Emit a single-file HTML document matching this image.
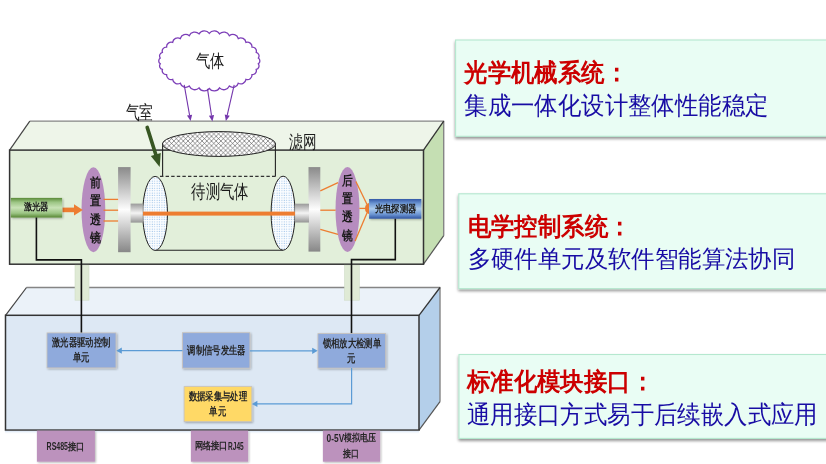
<!DOCTYPE html>
<html><head><meta charset="utf-8"><style>
html,body{margin:0;padding:0;background:#fff;width:826px;height:464px;overflow:hidden;font-family:'Liberation Sans', sans-serif;}
</style></head><body>
<svg width="826" height="464" viewBox="0 0 826 464" style="position:absolute;left:0;top:0;font-family:'Liberation Sans', sans-serif;will-change:transform">
<defs>
<pattern id="dots" width="2.4" height="2.4" patternUnits="userSpaceOnUse"><rect width="2.4" height="2.4" fill="#fbfdff"/><rect x="0.6" y="0.6" width="1" height="1" fill="#9cc2e8"/></pattern>
<pattern id="hatch" width="4.7" height="4.7" patternUnits="userSpaceOnUse"><rect width="4.7" height="4.7" fill="#ffffff"/><path d="M0,0L4.7,4.7M4.7,0L0,4.7" stroke="#3a3a3a" stroke-width="0.55"/></pattern>
<linearGradient id="gdisc" x1="0" y1="0" x2="0" y2="1"><stop offset="0" stop-color="#8a8a8a"/><stop offset="0.5" stop-color="#fdfdfd"/><stop offset="1" stop-color="#878787"/></linearGradient>
<linearGradient id="gconn" x1="0" y1="0" x2="0" y2="1"><stop offset="0" stop-color="#9a9a9a"/><stop offset="0.5" stop-color="#f4f4f4"/><stop offset="1" stop-color="#959595"/></linearGradient>
<linearGradient id="glaser" x1="0" y1="0" x2="0" y2="1"><stop offset="0" stop-color="#5a8a38"/><stop offset="0.22" stop-color="#9cc584"/><stop offset="0.5" stop-color="#c8e2b6"/><stop offset="0.78" stop-color="#9cc584"/><stop offset="1" stop-color="#578734"/></linearGradient>
<linearGradient id="gdet" x1="0" y1="0" x2="0" y2="1"><stop offset="0" stop-color="#3257a6"/><stop offset="0.22" stop-color="#6c95d2"/><stop offset="0.5" stop-color="#a9c9ec"/><stop offset="0.78" stop-color="#6c95d2"/><stop offset="1" stop-color="#3054a2"/></linearGradient>
<linearGradient id="glow" x1="0" y1="0" x2="0" y2="1"><stop offset="0" stop-color="#d6e4f5"/><stop offset="1" stop-color="#ffffff" stop-opacity="0"/></linearGradient>
<filter id="sh" x="-10%" y="-10%" width="130%" height="140%"><feGaussianBlur in="SourceAlpha" stdDeviation="1.6"/><feOffset dx="-0.3" dy="2.2" result="b"/><feComponentTransfer><feFuncA type="linear" slope="0.42"/></feComponentTransfer><feMerge><feMergeNode/><feMergeNode in="SourceGraphic"/></feMerge></filter>
<filter id="sh2" x="-10%" y="-10%" width="130%" height="140%"><feGaussianBlur in="SourceAlpha" stdDeviation="0.8"/><feOffset dx="0.5" dy="1" result="b"/><feComponentTransfer><feFuncA type="linear" slope="0.3"/></feComponentTransfer><feMerge><feMergeNode/><feMergeNode in="SourceGraphic"/></feMerge></filter>
</defs>
<rect width="826" height="464" fill="#ffffff"/>
<rect x="455.6" y="40.0" width="380.4" height="96.30000000000001" fill="#e9fdf4" stroke="#b5e8cf" stroke-width="1.1" filter="url(#sh)"/>
<rect x="458.8" y="193.8" width="377.2" height="94.80000000000001" fill="#e9fdf4" stroke="#b5e8cf" stroke-width="1.1" filter="url(#sh)"/>
<rect x="459.0" y="354.5" width="377.0" height="83.89999999999998" fill="#e9fdf4" stroke="#b5e8cf" stroke-width="1.1" filter="url(#sh)"/>
<text x="464.20" y="81.01" font-size="24.89" fill="#cc0000" font-weight="bold" textLength="163.80" lengthAdjust="spacingAndGlyphs">光学机械系统：</text>
<text x="464.20" y="113.66" font-size="25.32" fill="#180ca4" font-weight="500" textLength="304.20" lengthAdjust="spacingAndGlyphs">集成一体化设计整体性能稳定</text>
<text x="467.70" y="235.33" font-size="24.79" fill="#cc0000" font-weight="bold" textLength="163.80" lengthAdjust="spacingAndGlyphs">电学控制系统：</text>
<text x="467.70" y="267.26" font-size="24.47" fill="#180ca4" font-weight="500" textLength="327.60" lengthAdjust="spacingAndGlyphs">多硬件单元及软件智能算法协同</text>
<text x="466.80" y="389.83" font-size="24.79" fill="#cc0000" font-weight="bold" textLength="187.20" lengthAdjust="spacingAndGlyphs">标准化模块接口：</text>
<text x="466.80" y="422.53" font-size="24.79" fill="#180ca4" font-weight="500" textLength="351.00" lengthAdjust="spacingAndGlyphs">通用接口方式易于后续嵌入式应用</text>
<polygon points="5.5,315.3 26.5,287.5 440.0,287.5 419.0,315.3" fill="#ebf2f9"/>
<polygon points="419.0,315.3 440.0,287.5 440.0,401.70000000000005 419.0,430.1" fill="#b4cfea"/>
<polyline points="26.5,287.5 440.0,287.5 440.0,401.70000000000005" fill="none" stroke="#858585" stroke-width="1.4" stroke-linejoin="round"/>
<line x1="5.5" y1="315.3" x2="26.5" y2="287.5" stroke="#444" stroke-width="1.2"/>
<line x1="419.0" y1="315.3" x2="440.0" y2="287.5" stroke="#333" stroke-width="1.3"/>
<line x1="419.0" y1="430.1" x2="440.0" y2="401.70000000000005" stroke="#555" stroke-width="1.2"/>
<rect x="5.5" y="315.3" width="413.5" height="114.80000000000001" fill="#dde8f4" stroke="#333333" stroke-width="1.5"/>
<rect x="5" y="430.9" width="414" height="3.5" fill="url(#glow)"/>
<polygon points="9.6,150.1 29.799999999999997,121.1 443.7,121.1 423.5,150.1" fill="#eef5e9"/>
<polygon points="423.5,150.1 443.7,121.1 443.7,235.7 423.5,264.2" fill="#c5dfb3"/>
<polyline points="29.799999999999997,121.1 443.7,121.1 443.7,235.7" fill="none" stroke="#858585" stroke-width="1.4" stroke-linejoin="round"/>
<line x1="9.6" y1="150.1" x2="29.799999999999997" y2="121.1" stroke="#444" stroke-width="1.2"/>
<line x1="423.5" y1="150.1" x2="443.7" y2="121.1" stroke="#333" stroke-width="1.3"/>
<line x1="423.5" y1="264.2" x2="443.7" y2="235.7" stroke="#555" stroke-width="1.2"/>
<rect x="9.6" y="150.1" width="413.9" height="114.1" fill="#e2efda" stroke="#333333" stroke-width="1.5"/>
<rect x="75" y="265.2" width="14" height="35" fill="#dfead5" stroke="#cfdcc6" stroke-width="0.6"/>
<rect x="344.5" y="265.2" width="14.800000000000011" height="35" fill="#dfead5" stroke="#cfdcc6" stroke-width="0.6"/>
<path d="M209.30,33.30 A6.16,6.16 0 0,1 219.55,33.90 A5.98,5.98 0 0,1 229.35,35.69 A5.63,5.63 0 0,1 238.28,38.57 A5.15,5.15 0 0,1 245.94,42.43 A4.59,4.59 0 0,1 252.00,47.10 A4.04,4.04 0 0,1 256.19,52.37 A3.62,3.62 0 0,1 258.33,58.02 A3.46,3.46 0 0,1 258.33,63.78 A3.62,3.62 0 0,1 256.19,69.43 A4.04,4.04 0 0,1 252.00,74.70 A4.59,4.59 0 0,1 245.94,79.37 A5.15,5.15 0 0,1 238.28,83.23 A5.63,5.63 0 0,1 229.35,86.11 A5.98,5.98 0 0,1 219.55,87.90 A6.16,6.16 0 0,1 209.30,88.50 A6.16,6.16 0 0,1 199.05,87.90 A5.98,5.98 0 0,1 189.25,86.11 A5.63,5.63 0 0,1 180.32,83.23 A5.15,5.15 0 0,1 172.66,79.37 A4.59,4.59 0 0,1 166.60,74.70 A4.04,4.04 0 0,1 162.41,69.43 A3.62,3.62 0 0,1 160.27,63.78 A3.46,3.46 0 0,1 160.27,58.02 A3.62,3.62 0 0,1 162.41,52.37 A4.04,4.04 0 0,1 166.60,47.10 A4.59,4.59 0 0,1 172.66,42.43 A5.15,5.15 0 0,1 180.32,38.57 A5.63,5.63 0 0,1 189.25,35.69 A5.98,5.98 0 0,1 199.05,33.90 A6.16,6.16 0 0,1 209.30,33.30 Z" fill="#ffffff" stroke="#7d3fb8" stroke-width="1.3"/>
<text x="195.64" y="66.90" font-size="18.30" fill="#1a1a1a" font-weight="500" textLength="28.70" lengthAdjust="spacingAndGlyphs" >气体</text>
<line x1="184.2" y1="84.8" x2="189.56" y2="115.09" stroke="#7436ac" stroke-width="1.1"/>
<polygon points="190.6,121.0 187.00,115.54 192.12,114.64" fill="#7436ac"/>
<line x1="207.5" y1="88.9" x2="211.51" y2="115.47" stroke="#7436ac" stroke-width="1.1"/>
<polygon points="212.4,121.4 208.93,115.85 214.08,115.08" fill="#7436ac"/>
<line x1="234.2" y1="84.8" x2="227.24" y2="115.15" stroke="#7436ac" stroke-width="1.1"/>
<polygon points="225.9,121.0 224.71,114.57 229.78,115.73" fill="#7436ac"/>
<text x="125.56" y="118.57" font-size="18.62" fill="#1a1a1a" font-weight="500" textLength="27.56" lengthAdjust="spacingAndGlyphs" >气室</text>
<line x1="147.2" y1="127.4" x2="156.08" y2="155.46" stroke="#375623" stroke-width="3.6" stroke-linecap="round"/>
<polygon points="159.7,166.9 150.82,156.07 160.74,152.94" fill="#375623"/>
<text x="289.26" y="147.77" font-size="17.77" fill="#1a1a1a" font-weight="500" textLength="27.25" lengthAdjust="spacingAndGlyphs" >滤网</text>
<line x1="162.6" y1="144" x2="162.6" y2="176.4" stroke="#222" stroke-width="1.1"/>
<line x1="275.4" y1="144" x2="275.4" y2="176.4" stroke="#222" stroke-width="1.1"/>
<line x1="160" y1="176.4" x2="275.4" y2="176.4" stroke="#333" stroke-width="1.1" stroke-dasharray="3.4,2.2"/>
<ellipse cx="219" cy="144" rx="56.6" ry="12.4" fill="url(#hatch)" stroke="#222" stroke-width="1"/>
<line x1="155.1" y1="250.3" x2="283.1" y2="250.3" stroke="#222" stroke-width="1.1"/>
<text x="191.24" y="197.73" font-size="18.94" fill="#1a1a1a" font-weight="500" textLength="57.51" lengthAdjust="spacingAndGlyphs" >待测气体</text>
<ellipse cx="155.1" cy="213.4" rx="12.4" ry="37" fill="url(#dots)" stroke="#222" stroke-width="1"/>
<ellipse cx="283.1" cy="213.2" rx="12" ry="37" fill="url(#dots)" stroke="#222" stroke-width="1"/>
<rect x="142.8" y="211.6" width="152.4" height="4" fill="#ed7d31"/>
<rect x="118.1" y="167.1" width="12.5" height="85.1" fill="url(#gdisc)"/>
<rect x="130.6" y="203.6" width="12.2" height="19" fill="url(#gconn)"/>
<rect x="308.5" y="167.1" width="11.8" height="84.5" fill="url(#gdisc)"/>
<rect x="295.1" y="203.7" width="13.9" height="18.8" fill="url(#gconn)"/>
<ellipse cx="93.4" cy="209.7" rx="11.9" ry="42.5" fill="#b68cbf"/>
<ellipse cx="347.5" cy="209.6" rx="12" ry="42.5" fill="#b68cbf"/>
<text x="89.77" y="187.33" font-size="12.65" fill="#1a1a1a" font-weight="bold" textLength="11.08" lengthAdjust="spacingAndGlyphs" >前</text>
<text x="89.77" y="205.43" font-size="12.65" fill="#1a1a1a" font-weight="bold" textLength="11.08" lengthAdjust="spacingAndGlyphs" >置</text>
<text x="89.77" y="224.03" font-size="12.65" fill="#1a1a1a" font-weight="bold" textLength="11.08" lengthAdjust="spacingAndGlyphs" >透</text>
<text x="89.77" y="242.33" font-size="12.65" fill="#1a1a1a" font-weight="bold" textLength="11.08" lengthAdjust="spacingAndGlyphs" >镜</text>
<text x="342.48" y="185.33" font-size="12.65" fill="#1a1a1a" font-weight="bold" textLength="10.86" lengthAdjust="spacingAndGlyphs" >后</text>
<text x="342.48" y="202.53" font-size="12.65" fill="#1a1a1a" font-weight="bold" textLength="10.86" lengthAdjust="spacingAndGlyphs" >置</text>
<text x="342.48" y="221.03" font-size="12.65" fill="#1a1a1a" font-weight="bold" textLength="10.86" lengthAdjust="spacingAndGlyphs" >透</text>
<text x="342.48" y="240.43" font-size="12.65" fill="#1a1a1a" font-weight="bold" textLength="10.86" lengthAdjust="spacingAndGlyphs" >镜</text>
<line x1="103.5" y1="199.4" x2="118.1" y2="199.4" stroke="#ed7d31" stroke-width="1.3"/>
<line x1="103.5" y1="210.2" x2="118.1" y2="210.2" stroke="#ed7d31" stroke-width="1.3"/>
<line x1="103.5" y1="221.0" x2="118.1" y2="221.0" stroke="#ed7d31" stroke-width="1.3"/>
<line x1="320.3" y1="190.8" x2="338" y2="182.6" stroke="#ed7d31" stroke-width="1.3"/>
<line x1="320.3" y1="210.2" x2="335.6" y2="210.2" stroke="#ed7d31" stroke-width="1.3"/>
<line x1="320.3" y1="229.4" x2="338" y2="234.3" stroke="#ed7d31" stroke-width="1.3"/>
<line x1="355.9" y1="181.5" x2="366.8" y2="204.0" stroke="#ed7d31" stroke-width="1.3"/>
<line x1="359.4" y1="208.4" x2="367" y2="208.4" stroke="#ed7d31" stroke-width="1.3"/>
<line x1="355.1" y1="241.1" x2="367" y2="213.1" stroke="#ed7d31" stroke-width="1.3"/>
<path d="M369.2,202.9 A4.2,5.5 0 0,0 369.2,213.9 Z" fill="#ed7d31"/>
<rect x="62.5" y="207.6" width="12" height="4.6" fill="#ed7d31"/>
<polygon points="74,204.2 82.8,209.9 74,215.6" fill="#ed7d31"/>
<rect x="10.8" y="197.9" width="51.3" height="19.6" fill="url(#glaser)" filter="url(#sh2)"/>
<text x="23.79" y="210.19" font-size="10.10" fill="#1a1a1a" font-weight="bold" textLength="24.98" lengthAdjust="spacingAndGlyphs" >激光器</text>
<rect x="369.1" y="199.0" width="52.2" height="19.7" fill="url(#gdet)" filter="url(#sh2)"/>
<text x="374.59" y="212.36" font-size="10.31" fill="#1a1a1a" font-weight="bold" textLength="41.68" lengthAdjust="spacingAndGlyphs" >光电探测器</text>
<polyline points="36.4,217.5 36.4,259.9 81.4,259.9 81.4,332.9" fill="none" stroke="#111" stroke-width="1.6"/>
<polyline points="395.3,218.7 395.3,259.6 351.5,259.6 351.5,333.6" fill="none" stroke="#111" stroke-width="1.6"/>
<rect x="47" y="332.9" width="69" height="35" fill="#8faadc" stroke="#c9c3bb" stroke-width="0.8" filter="url(#sh2)"/>
<rect x="182.5" y="332.7" width="67.4" height="35.4" fill="#8faadc" stroke="#c9c3bb" stroke-width="0.8" filter="url(#sh2)"/>
<rect x="317.9" y="333.6" width="67.8" height="34.5" fill="#8faadc" stroke="#c9c3bb" stroke-width="0.8" filter="url(#sh2)"/>
<rect x="184.1" y="386.6" width="67.7" height="35" fill="#ffd966" stroke="#c9c3bb" stroke-width="0.8" filter="url(#sh2)"/>
<text x="52.08" y="346.48" font-size="10.50" fill="#262626" font-weight="bold" textLength="58.45" lengthAdjust="spacingAndGlyphs">激光器驱动控制</text>
<text x="73.05" y="361.07" font-size="10.50" fill="#262626" font-weight="bold" textLength="16.70" lengthAdjust="spacingAndGlyphs">单元</text>
<text x="187.28" y="354.43" font-size="10.50" fill="#262626" font-weight="bold" textLength="58.45" lengthAdjust="spacingAndGlyphs">调制信号发生器</text>
<text x="322.57" y="346.53" font-size="10.50" fill="#262626" font-weight="bold" textLength="58.45" lengthAdjust="spacingAndGlyphs">锁相放大检测单</text>
<text x="347.32" y="361.98" font-size="10.50" fill="#262626" font-weight="bold" textLength="8.35" lengthAdjust="spacingAndGlyphs">元</text>
<text x="188.58" y="399.78" font-size="10.50" fill="#262626" font-weight="bold" textLength="58.45" lengthAdjust="spacingAndGlyphs">数据采集与处理</text>
<text x="209.45" y="414.98" font-size="10.50" fill="#262626" font-weight="bold" textLength="16.70" lengthAdjust="spacingAndGlyphs">单元</text>
<line x1="182.5" y1="350.7" x2="120.3" y2="350.7" stroke="#5b9bd5" stroke-width="1.2"/>
<polygon points="116.3,350.7 121.8,347.59999999999997 121.8,353.8" fill="#5b9bd5"/>
<line x1="249.9" y1="350.8" x2="313.7" y2="350.8" stroke="#5b9bd5" stroke-width="1.2"/>
<polygon points="317.7,350.8 312.2,347.7 312.2,353.90000000000003" fill="#5b9bd5"/>
<polyline points="351.6,368.1 351.6,403.9 256,403.9" fill="none" stroke="#5b9bd5" stroke-width="1.2"/>
<polygon points="251.9,403.9 257.4,400.8 257.4,407.0" fill="#5b9bd5"/>
<rect x="36.9" y="430.6" width="58.00000000000001" height="31.1" fill="#bc92bd" filter="url(#sh2)"/>
<rect x="190.9" y="430.6" width="57.19999999999999" height="31.1" fill="#bc92bd" filter="url(#sh2)"/>
<rect x="322.9" y="430.6" width="57.200000000000045" height="31.1" fill="#bc92bd" filter="url(#sh2)"/>
<text x="46.60" y="450.00" font-size="10.97" fill="#262626" font-weight="bold" textLength="21.40" lengthAdjust="spacingAndGlyphs">RS485</text>
<text x="67.69" y="449.50" font-size="10.00" fill="#262626" font-weight="bold" textLength="16.58" lengthAdjust="spacingAndGlyphs" >接口</text>
<text x="194.69" y="449.44" font-size="10.41" fill="#262626" font-weight="bold" textLength="33.08" lengthAdjust="spacingAndGlyphs" >网络接口</text>
<text x="228.10" y="450.00" font-size="10.83" fill="#262626" font-weight="bold" textLength="15.60" lengthAdjust="spacingAndGlyphs">RJ45</text>
<text x="326.60" y="441.80" font-size="10.97" fill="#262626" font-weight="bold" textLength="17.60" lengthAdjust="spacingAndGlyphs">0-5V</text>
<text x="343.90" y="441.40" font-size="10.00" fill="#262626" font-weight="bold" textLength="31.76" lengthAdjust="spacingAndGlyphs" >模拟电压</text>
<text x="343.10" y="457.20" font-size="10.00" fill="#262626" font-weight="bold" textLength="16.06" lengthAdjust="spacingAndGlyphs" >接口</text>
</svg>
</body></html>
